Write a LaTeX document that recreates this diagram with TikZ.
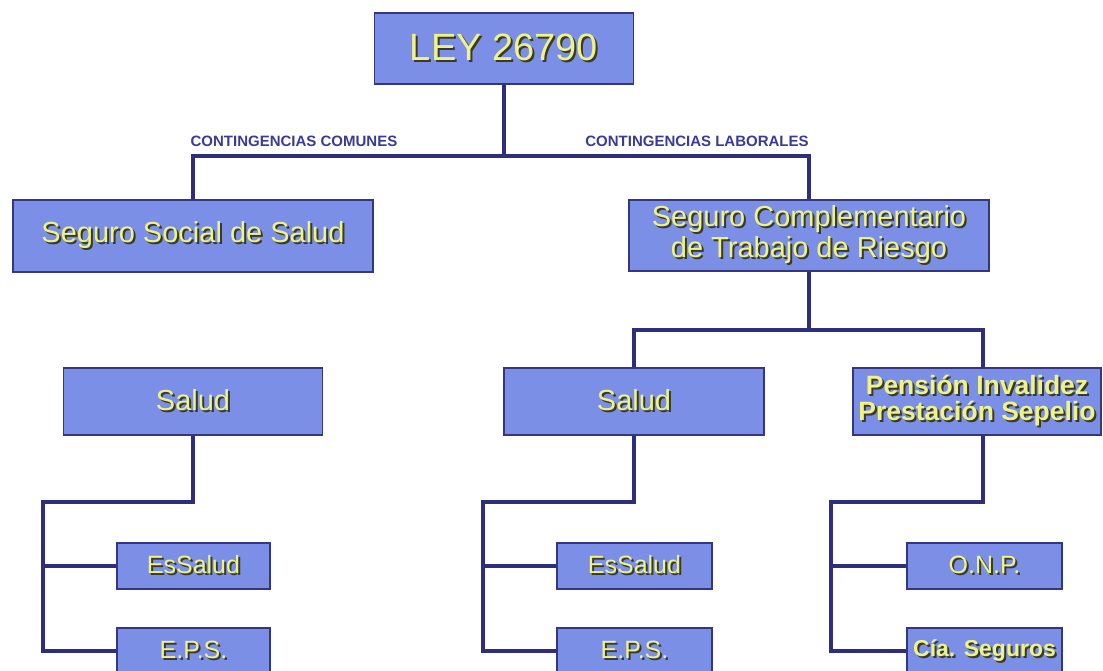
\documentclass[tikz,border=0pt]{standalone}
\usepackage{fontspec}
\setmainfont{Liberation Sans}
\definecolor{boxfill}{HTML}{7B8FE6}
\definecolor{boxline}{HTML}{34377F}
\definecolor{wirec}{HTML}{2E2E7C}
\definecolor{txty}{HTML}{EEF28A}
\definecolor{txts}{HTML}{3A3A22}
\definecolor{lblc}{HTML}{3B3B95}
\newcommand{\shd}[1]{\leavevmode\rlap{\raisebox{-2pt}{\hspace{2pt}\textcolor{txts}{#1}}}\textcolor{txty}{#1}}
\begin{document}
\begin{tikzpicture}[x=1pt,y=-1pt,
  box/.style={draw=boxline, line width=1.4pt, fill=boxfill, inner sep=0pt, align=center},
  bigtxt/.style={font=\fontsize{29}{24}\selectfont},
  smalltxt/.style={font=\fontsize{25}{25}\selectfont},
  wire/.style={draw=wirec, line width=3.6pt, line join=miter},
  lbl/.style={text=lblc, font=\bfseries\fontsize{15}{15}\selectfont, inner sep=0pt}]
\clip (0,0) rectangle (1103,671);
\fill[white] (0,0) rectangle (1103,671);
% boxes
\node[box, minimum width=259pt, minimum height=71pt, font=\fontsize{38}{38}\selectfont] (ley) at (504,48.5) {\shd{LEY 26790}};
\node[box, bigtxt, minimum width=360pt, minimum height=72pt] (ssal) at (193,236) {\shd{Seguro Social de Salud}};
\node[box, bigtxt, minimum width=360pt, minimum height=71pt] (sctr) at (809,235.5) {\shd{Seguro Complementario}\\\shd{de Trabajo de Riesgo}};
\node[box, bigtxt, minimum width=259pt, minimum height=67pt] (sal1) at (193,401.5) {\shd{Salud}};
\node[box, bigtxt, minimum width=260pt, minimum height=67pt] (sal2) at (634,401.5) {\shd{Salud}};
\node[box, font=\bfseries\fontsize{26.5}{26}\selectfont, minimum width=248pt, minimum height=67pt] (pen) at (977,401.5) {\shd{Pensión Invalidez}\\\shd{Prestación Sepelio}};
\node[box, smalltxt, minimum width=153pt, minimum height=46pt] (ess1) at (193.5,566) {\shd{EsSalud}};
\node[box, smalltxt, minimum width=153pt, minimum height=46pt] (eps1) at (193.5,651) {\shd{E.P.S.}};
\node[box, smalltxt, minimum width=155pt, minimum height=46pt] (ess2) at (634.5,566) {\shd{EsSalud}};
\node[box, smalltxt, minimum width=155pt, minimum height=46pt] (eps2) at (634.5,651) {\shd{E.P.S.}};
\node[box, smalltxt, minimum width=155pt, minimum height=46pt] (onp) at (984.5,566) {\shd{O.N.P.}};
\node[box, font=\bfseries\fontsize{23}{23}\selectfont, minimum width=155pt, minimum height=46pt] (cia) at (984.5,651) {\shd{Cía. Seguros}};
% labels
\node[lbl] (lcom) at (294,141) {CONTINGENCIAS COMUNES};
\node[lbl] (llab) at (697,141) {CONTINGENCIAS LABORALES};
% junctions
\coordinate (bus1) at (504,156);
\coordinate (bus2) at (809,330);
\coordinate (t1) at (43,502);
\coordinate (t2) at (483,502);
\coordinate (t3) at (831,502);
\coordinate (pn) at (983,368);
\coordinate (ps) at (983,435);
% connectors
\draw[wire] (ley.south) -- (bus1);
\draw[wire] (ssal.north) |- (bus1) -| (sctr.north);
\draw[wire] (sctr.south) -- (bus2);
\draw[wire] (sal2.north) |- (bus2) -| (pn);
\draw[wire] (sal1.south) |- (t1) |- (eps1.west);
\draw[wire] (ess1.west -| t1) -- (ess1.west);
\draw[wire] (sal2.south) |- (t2) |- (eps2.west);
\draw[wire] (ess2.west -| t2) -- (ess2.west);
\draw[wire] (ps) |- (t3) |- (cia.west);
\draw[wire] (onp.west -| t3) -- (onp.west);
\end{tikzpicture}
\end{document}
